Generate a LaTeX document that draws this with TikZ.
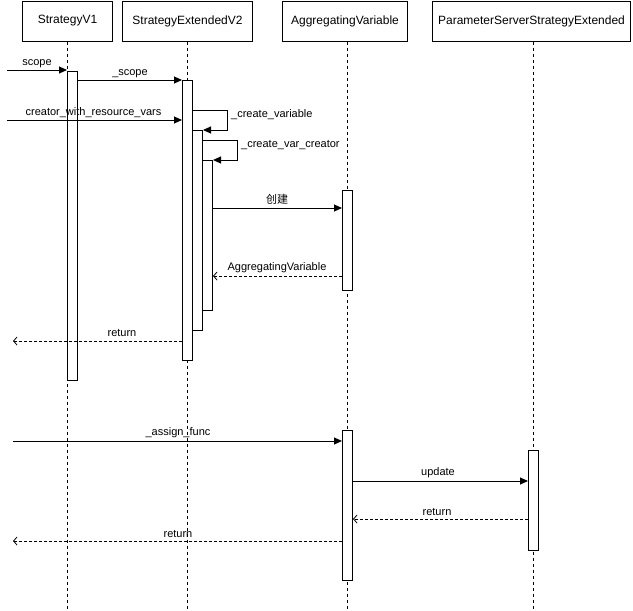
\documentclass[tikz,border=0pt]{standalone}
\usepackage{fontspec}
\setmainfont{Liberation Sans}
\newfontfamily\cjk{Noto Sans CJK SC}
\usetikzlibrary{arrows.meta}
\tikzset{
  head/.style={draw, line width=1pt, fill=white, minimum height=40pt, inner sep=0pt, anchor=north west, font=\fontsize{12}{14}\selectfont},
  bar/.style={draw, line width=1pt, fill=white, minimum width=10pt, inner sep=0pt, anchor=north west},
  life/.style={line width=0.8pt, dash pattern=on 3pt off 3pt},
  call/.style={line width=1pt, -{Triangle[length=8pt,width=7pt]}},
  ret/.style={line width=0.8pt, dash pattern=on 3pt off 2pt, -{Straight Barb[length=3.5pt,width=8pt]}},
  lbl/.style={anchor=base, inner sep=0pt, font=\fontsize{11}{13}\selectfont}
}
\begin{document}
\begin{tikzpicture}[x=1pt,y=-1pt]
\useasboundingbox (0,0) rectangle (633,611);
% headers
\node[head, minimum width=90pt] (h1) at (22,0.5) {StrategyV1};
\node[head, minimum width=130pt] (h2) at (122,0.5) {StrategyExtendedV2};
\node[head, minimum width=125pt] (h3) at (282,0.5) {AggregatingVariable};
\node[head, minimum width=198pt] (h4) at (432,0.5) {ParameterServerStrategyExtended};
% lifelines
\draw[life] (h1.south) -- (h1.south |- 0,611);
\draw[life] (h2.south) -- (h2.south |- 0,611);
\draw[life] ([xshift=2.5pt]h3.south) -- ([xshift=2.5pt]h3.south |- 0,611);
\draw[life] ([xshift=1.5pt]h4.south) -- ([xshift=1.5pt]h4.south |- 0,611);
% activation bars
\node[bar, minimum height=309pt] (b1) at (67,71) {};
\node[bar, minimum height=280pt] (b2) at (182,80) {};
\node[bar, minimum height=200pt] (b3) at (192,130) {};
\node[bar, minimum height=150pt] (b4) at (202,160) {};
\node[bar, minimum height=100pt] (b5) at (342,190) {};
\node[bar, minimum height=150pt] (b6) at (342,430) {};
\node[bar, minimum height=100pt] (b7) at (528,450) {};
% free ends
\coordinate (s1) at (7,70);
\coordinate (s2) at (7,120);
\coordinate (e1) at (13,341);
\coordinate (s3) at (13,441);
\coordinate (e2) at (13,541);
% messages
\draw[call] (s1) -- (b1.west |- 0,70);
\node[lbl] (l1) at (37,65) {scope};
\draw[call] (b1.east |- 0,80) -- (b2.west |- 0,80);
\node[lbl] (l2) at (130,75) {\_scope};
\draw[call] (s2) -- (b2.west |- 0,120);
\node[lbl] (l3) at (93.5,115) {creator\_with\_resource\_vars};
\draw[call] (b2.east |- 0,110) -- (227.5,110) -- (227.5,130) -- (b3.east |- 0,130);
\node[lbl, anchor=base west] (l4) at (231,117) {\_create\_variable};
\draw[call] (b3.east |- 0,140) -- (237.5,140) -- (237.5,160) -- (b4.east |- 0,160);
\node[lbl, anchor=base west] (l5) at (241,147.5) {\_create\_var\_creator};
\draw[call] (b4.east |- 0,208) -- (b5.west |- 0,208);
\node[lbl] (l6) at (277,203) {\cjk 创建};
\draw[ret] (b5.west |- 0,276) -- (b4.east |- 0,276);
\node[lbl] (l7) at (277,270.5) {AggregatingVariable};
\draw[ret] (b2.west |- 0,341) -- (e1);
\node[lbl] (l8) at (122,336.5) {return};
\draw[call] (s3) -- (b6.west |- 0,441);
\node[lbl] (l9) at (178,435.5) {\_assign\_func};
\draw[call] (b6.east |- 0,481) -- (b7.west |- 0,481);
\node[lbl] (l10) at (438,475.5) {update};
\draw[ret] (b7.west |- 0,519) -- (b6.east |- 0,519);
\node[lbl] (l11) at (437,515) {return};
\draw[ret] (b6.west |- 0,541) -- (e2);
\node[lbl] (l12) at (178,537) {return};
\end{tikzpicture}
\end{document}
